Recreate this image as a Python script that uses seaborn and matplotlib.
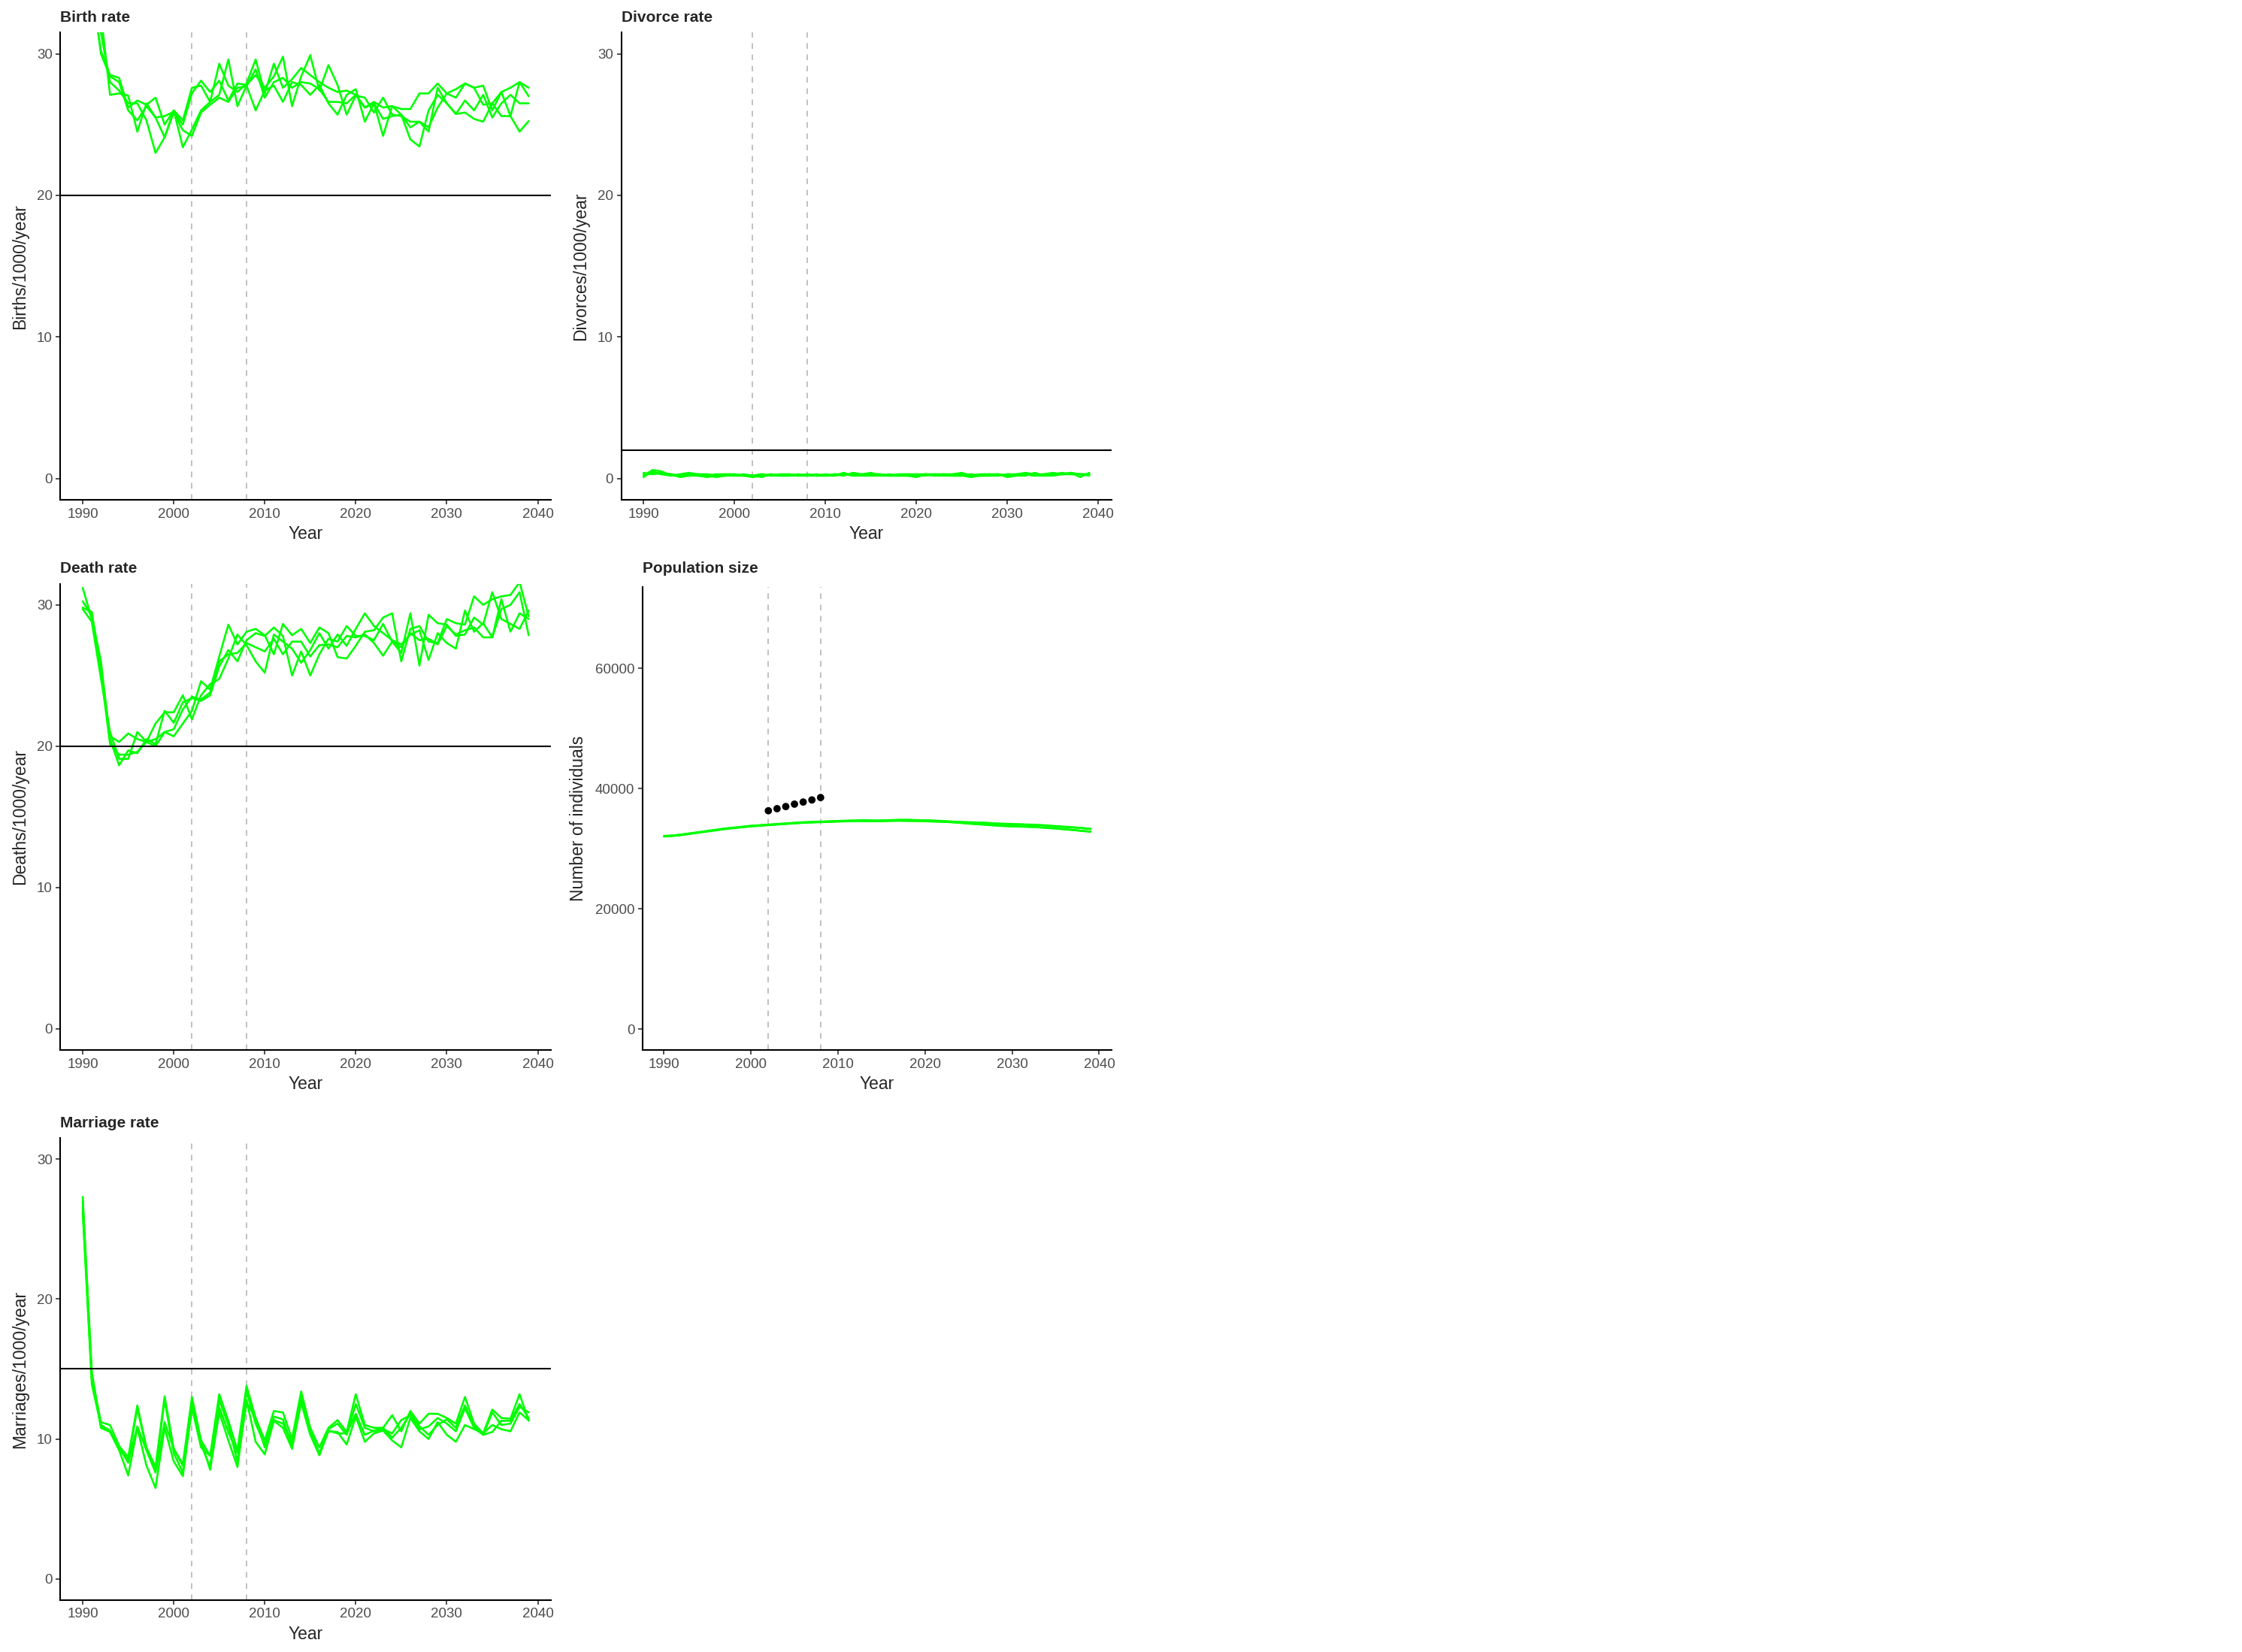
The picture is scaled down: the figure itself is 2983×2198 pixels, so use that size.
"""Simulation runs vs targets: birth, divorce, death, population, marriage"""
import matplotlib
matplotlib.use("Agg")
import matplotlib.pyplot as plt
import seaborn as sns
import pandas as pd

years = list(range(1990, 2040))

# four simulation runs per panel, one value per year 1990..2039
birth_runs = [
    [40, 34.5, 30.2, 28.5, 28.3, 26.2, 26.7, 26.4, 26.9, 25.0, 26.0, 25.3, 27.6, 27.75, 26.6, 29.3, 27.75, 27.3, 27.9, 29.6,
     27.2, 29.3, 27.6, 28.2, 29.0, 28.5, 28.0, 27.6, 27.3, 27.4, 27.1, 26.2, 26.6, 26.2, 26.3, 26.1, 26.1, 27.2, 27.2, 27.9,
     27.2, 27.5, 27.9, 27.6, 27.75, 26.0, 27.3, 27.6, 28.0, 27.6],
    [41, 35, 30.0, 28.4, 28.0, 26.0, 25.3, 26.3, 25.5, 25.6, 25.9, 25.0, 27.2, 28.1, 27.3, 28.1, 26.7, 27.9, 27.8, 28.5,
     27.6, 28.4, 29.8, 26.3, 28.4, 29.9, 27.4, 29.2, 27.8, 25.7, 27.05, 26.9, 25.85, 26.9, 25.7, 25.6, 25.2, 25.2, 24.5, 27.6,
     26.5, 25.75, 26.7, 26.0, 27.1, 25.5, 26.5, 27.1, 26.5, 26.5],
    [44, 37, 32.8, 27.1, 27.2, 27.05, 24.5, 26.5, 25.5, 24.1, 26.0, 23.4, 24.65, 26.0, 26.6, 27.1, 29.6, 26.3, 27.75, 26.0,
     27.4, 27.75, 26.6, 28.0, 27.8, 27.1, 27.8, 26.5, 25.7, 27.1, 27.5, 25.2, 26.5, 24.2, 26.3, 25.7, 23.95, 23.45, 26.0, 27.1,
     26.5, 25.75, 25.85, 25.4, 25.2, 26.5, 25.6, 25.6, 24.5, 25.25],
    [43, 36.5, 31.5, 28.0, 27.4, 26.5, 26.5, 25.3, 23.0, 24.1, 25.85, 24.6, 24.2, 25.85, 26.4, 26.9, 26.6, 27.6, 27.7, 28.9,
     26.9, 28.0, 28.3, 27.6, 28.0, 27.9, 27.5, 26.6, 26.6, 26.5, 27.1, 26.2, 26.5, 25.4, 25.6, 25.7, 24.8, 25.2, 24.8, 26.2,
     27.2, 26.9, 27.9, 27.6, 26.4, 26.5, 27.3, 25.6, 28.0, 27.0],
]

divorce_runs = [
    [0.2, 0.6, 0.5, 0.2, 0.3, 0.4, 0.3, 0.3, 0.2, 0.3, 0.3, 0.2, 0.2, 0.3, 0.2, 0.3, 0.3, 0.2, 0.3, 0.2,
     0.2, 0.3, 0.2, 0.4, 0.3, 0.3, 0.3, 0.2, 0.3, 0.3, 0.2, 0.3, 0.3, 0.3, 0.3, 0.4, 0.2, 0.3, 0.3, 0.3,
     0.2, 0.3, 0.4, 0.3, 0.3, 0.4, 0.3, 0.4, 0.1, 0.4],
    [0.4, 0.3, 0.4, 0.3, 0.2, 0.2, 0.2, 0.2, 0.3, 0.3, 0.2, 0.2, 0.1, 0.2, 0.3, 0.2, 0.2, 0.3, 0.2, 0.3,
     0.2, 0.2, 0.4, 0.2, 0.3, 0.4, 0.2, 0.2, 0.2, 0.3, 0.3, 0.3, 0.2, 0.3, 0.2, 0.2, 0.3, 0.2, 0.2, 0.3,
     0.1, 0.2, 0.3, 0.2, 0.3, 0.3, 0.4, 0.3, 0.3, 0.3],
    [0.3, 0.4, 0.3, 0.2, 0.2, 0.3, 0.2, 0.1, 0.2, 0.2, 0.3, 0.2, 0.2, 0.1, 0.3, 0.2, 0.3, 0.2, 0.2, 0.2,
     0.2, 0.3, 0.3, 0.2, 0.2, 0.2, 0.2, 0.3, 0.2, 0.2, 0.2, 0.2, 0.3, 0.2, 0.2, 0.2, 0.1, 0.2, 0.3, 0.2,
     0.3, 0.2, 0.2, 0.4, 0.2, 0.2, 0.3, 0.3, 0.3, 0.3],
    [0.1, 0.5, 0.3, 0.3, 0.1, 0.2, 0.3, 0.2, 0.1, 0.2, 0.2, 0.3, 0.2, 0.3, 0.2, 0.2, 0.2, 0.2, 0.3, 0.2,
     0.3, 0.2, 0.3, 0.3, 0.2, 0.3, 0.3, 0.2, 0.2, 0.2, 0.1, 0.3, 0.2, 0.2, 0.3, 0.3, 0.2, 0.2, 0.2, 0.2,
     0.3, 0.3, 0.3, 0.2, 0.2, 0.3, 0.3, 0.4, 0.3, 0.2],
]

death_runs = [
    [31.2, 29.0, 25.5, 20.7, 20.3, 20.9, 20.5, 20.3, 20.0, 21.0, 20.7, 21.6, 22.5, 24.6, 24.0, 26.35, 28.6, 27.2, 28.1, 28.3,
     27.85, 26.5, 28.65, 27.85, 28.3, 27.3, 28.4, 28.0, 26.3, 26.2, 27.1, 28.1, 28.2, 29.1, 29.4, 26.0, 28.3, 28.5, 27.4, 27.3,
     29.0, 28.7, 28.6, 30.6, 30.0, 30.4, 30.6, 30.7, 31.6, 29.2],
    [30.25, 29.2, 26.0, 20.5, 18.65, 19.7, 19.5, 20.5, 20.15, 22.5, 21.65, 23.1, 23.4, 23.2, 23.6, 25.65, 26.8, 26.0, 27.5, 28.0,
     27.8, 28.4, 27.8, 25.0, 26.7, 25.0, 26.5, 27.6, 27.4, 28.5, 27.8, 27.8, 27.5, 28.65, 27.4, 26.6, 29.4, 25.7, 29.3, 28.7,
     28.6, 27.8, 27.9, 29.1, 28.6, 30.9, 29.0, 28.65, 28.3, 29.6],
    [29.7, 28.8, 24.8, 21.0, 19.1, 19.1, 21.0, 20.3, 21.6, 22.4, 22.4, 23.6, 21.9, 23.6, 24.4, 24.75, 26.2, 27.9, 27.15, 26.0,
     25.2, 27.9, 27.4, 26.9, 25.9, 26.8, 28.0, 26.9, 27.9, 27.1, 28.3, 29.4, 28.5, 28.0, 27.5, 27.2, 27.9, 28.2, 26.1, 28.0,
     27.3, 26.9, 29.6, 28.1, 28.7, 27.7, 29.7, 30.0, 30.9, 27.85],
    [29.8, 29.5, 25.2, 20.15, 19.4, 19.4, 19.6, 20.3, 20.5, 21.0, 21.2, 22.6, 23.5, 23.3, 23.8, 26.0, 26.5, 26.6, 27.3, 27.0,
     26.7, 27.6, 26.5, 27.4, 27.4, 26.35, 27.15, 27.2, 27.0, 27.8, 27.7, 27.9, 27.3, 26.4, 27.4, 27.0, 28.0, 27.5, 27.6, 27.2,
     28.5, 27.9, 28.2, 28.4, 27.7, 27.7, 30.4, 28.1, 29.4, 29.0],
]

pop_runs = [
    [32050, 32150, 32300, 32500, 32700, 32900, 33100, 33300, 33450, 33600, 33750, 33850, 33950, 34050, 34150, 34250, 34350,
     34400, 34450, 34500, 34550, 34600, 34650, 34650, 34600, 34650, 34700, 34750, 34750, 34700, 34700, 34650, 34600, 34500,
     34450, 34400, 34350, 34300, 34200, 34150, 34100, 34050, 34000, 33950, 33850, 33750, 33650, 33550, 33450, 33300],
    [32000, 32100, 32250, 32450, 32650, 32850, 33050, 33250, 33400, 33550, 33700, 33800, 33900, 34000, 34100, 34200, 34300,
     34350, 34400, 34450, 34500, 34550, 34600, 34600, 34550, 34600, 34650, 34650, 34600, 34600, 34550, 34500, 34450, 34400,
     34300, 34150, 34050, 33950, 33850, 33750, 33700, 33650, 33600, 33550, 33450, 33350, 33250, 33100, 32950, 32800],
    [32100, 32200, 32350, 32550, 32750, 32950, 33150, 33350, 33500, 33650, 33800, 33900, 34000, 34100, 34200, 34300, 34400,
     34450, 34500, 34550, 34600, 34650, 34700, 34750, 34700, 34700, 34750, 34800, 34800, 34750, 34700, 34650, 34550, 34500,
     34400, 34350, 34300, 34250, 34150, 34100, 34050, 34000, 33950, 33900, 33800, 33700, 33600, 33500, 33400, 33250],
    [32050, 32150, 32300, 32500, 32700, 32900, 33100, 33300, 33450, 33600, 33750, 33850, 33950, 34050, 34150, 34250, 34300,
     34400, 34450, 34500, 34550, 34550, 34600, 34600, 34550, 34550, 34600, 34650, 34650, 34600, 34600, 34550, 34500, 34400,
     34300, 34200, 34100, 34000, 33900, 33800, 33750, 33700, 33650, 33550, 33450, 33350, 33200, 33100, 32950, 32850],
]
pop_obs_years = [2002, 2003, 2004, 2005, 2006, 2007, 2008]
pop_obs = [36300, 36650, 37000, 37400, 37750, 38100, 38500]

marriage_runs = [
    [27.3, 14.5, 11.2, 11.0, 9.5, 8.7, 12.4, 9.4, 8.0, 13.05, 9.3, 8.2, 13.0, 9.9, 8.8, 13.2, 11.3, 9.2, 13.8, 11.5,
     9.9, 12.0, 11.9, 10.0, 13.4, 10.8, 9.4, 10.8, 11.35, 10.5, 13.2, 11.0, 10.8, 10.8, 11.7, 10.55, 12.0, 11.1, 11.8, 11.8,
     11.5, 11.1, 13.0, 11.1, 10.4, 12.1, 11.5, 11.45, 13.2, 11.3],
    [26.5, 14.2, 10.9, 10.55, 9.4, 8.3, 10.9, 9.2, 7.6, 11.2, 9.3, 8.1, 12.25, 9.4, 8.8, 12.25, 10.5, 9.0, 13.4, 11.1,
     9.6, 11.35, 11.1, 9.75, 13.2, 10.6, 8.85, 10.7, 11.1, 10.3, 12.5, 10.8, 10.55, 10.7, 10.4, 11.35, 11.7, 10.7, 10.9, 11.5,
     11.1, 10.55, 12.2, 10.8, 10.3, 11.9, 11.0, 11.1, 12.3, 11.9],
    [27.0, 14.8, 10.8, 10.5, 9.2, 7.4, 10.8, 8.1, 6.5, 10.8, 8.4, 7.35, 12.2, 9.9, 7.8, 11.9, 9.9, 8.0, 12.8, 9.8,
     8.9, 11.3, 10.8, 9.3, 12.6, 10.3, 8.85, 10.55, 10.5, 9.6, 11.6, 9.8, 10.4, 10.6, 9.9, 9.4, 11.5, 10.55, 10.0, 11.2,
     10.3, 9.8, 11.0, 10.7, 10.4, 11.0, 10.7, 10.55, 11.9, 11.35],
    [26.2, 13.9, 11.0, 10.6, 9.3, 8.5, 12.2, 9.3, 7.8, 12.8, 9.0, 7.6, 12.6, 9.6, 8.0, 12.8, 11.0, 8.4, 12.6, 11.5,
     9.4, 11.6, 11.4, 9.5, 12.9, 10.5, 9.0, 10.6, 10.4, 10.4, 11.8, 10.3, 10.6, 10.8, 10.1, 10.8, 11.8, 10.9, 10.3, 11.0,
     11.4, 10.8, 12.4, 10.9, 10.3, 10.5, 11.3, 11.3, 12.5, 11.5],
]

# target lines
birth_target = 20
divorce_target = 2
death_target = 20
marriage_target = 15
event_years = [2002, 2008]

GREEN = "#00FF00"
TICK_GREY = "#4D4D4D"


def long_df(runs):
    rows = []
    for i, run in enumerate(runs):
        for yr, v in zip(years, run):
            rows.append({"year": yr, "value": v, "run": i})
    return pd.DataFrame(rows)


sns.set_theme(style="ticks")
plt.rcParams["font.family"] = ["Liberation Sans", "DejaVu Sans"]

fig = plt.figure(figsize=(2983 / 150, 2198 / 150), dpi=150)

# (title, ylabel, runs, target, [left, bottom, width, height], ylim, yticks, title pad)
panels = [
    ("Birth rate", "Births/1000/year", birth_runs, birth_target,
     [0.02695, 0.6975, 0.2188, 0.2828], (-1.5, 31.5), [0, 10, 20, 30], 7),
    ("Divorce rate", "Divorces/1000/year", divorce_runs, divorce_target,
     [0.2771, 0.6975, 0.2187, 0.2828], (-1.5, 31.5), [0, 10, 20, 30], 7),
    ("Death rate", "Deaths/1000/year", death_runs, death_target,
     [0.02695, 0.3644, 0.2188, 0.2823], (-1.5, 31.5), [0, 10, 20, 30], 7),
    ("Population size", "Number of individuals", pop_runs, None,
     [0.2866, 0.3644, 0.2093, 0.2802], (-3500, 73500), [0, 20000, 40000, 60000], 9.2),
    ("Marriage rate", "Marriages/1000/year", marriage_runs, marriage_target,
     [0.02695, 0.0315, 0.2188, 0.2796], (-1.5, 31.5), [0, 10, 20, 30], 7),
]

for title, ylab, runs, target, rect, ylim, yticks, tpad in panels:
    ax = fig.add_axes(rect)
    for ev in event_years:
        ax.axvline(ev, color="#BEBEBE", lw=0.9, ls=(0, (4, 4)), zorder=1)
    sns.lineplot(data=long_df(runs), x="year", y="value", units="run", estimator=None,
                 color=GREEN, lw=1.25, ax=ax, legend=False, zorder=2)
    if target is not None:
        ax.axhline(target, color="black", lw=1.0, zorder=3)
    if title == "Population size":
        sns.scatterplot(x=pop_obs_years, y=pop_obs, color="black", s=22, edgecolor="none", ax=ax, zorder=4)

    ax.set_xlim(1987.55, 2041.45)
    ax.set_ylim(*ylim)
    ax.set_xticks([1990, 2000, 2010, 2020, 2030, 2040])
    ax.set_yticks(yticks)
    ax.set_xlabel("Year", fontsize=11, labelpad=3)
    ax.set_ylabel(ylab, fontsize=11, labelpad=5)
    ax.set_title(title, loc="left", fontsize=10, fontweight="bold", pad=tpad)
    ax.tick_params(labelsize=9, labelcolor=TICK_GREY, color="#333333", length=2.9, width=0.8, pad=2.2)
    sns.despine(ax=ax)
    for side in ["left", "bottom"]:
        ax.spines[side].set_color("black")
        ax.spines[side].set_linewidth(1.0)

fig.savefig("out.png", dpi=150, facecolor="white")
